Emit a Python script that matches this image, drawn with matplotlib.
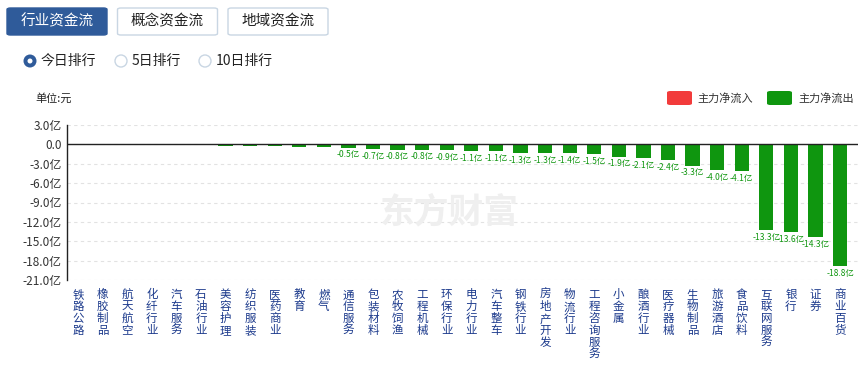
import numpy as np
import matplotlib
matplotlib.use("Agg")
from matplotlib import pyplot as plt
from matplotlib.patches import FancyBboxPatch, Ellipse

plt.rcParams["font.family"] = ["Noto Sans CJK SC", "DejaVu Sans"]

# industries, ordered as on the chart
industries = [
    "铁路公路", "橡胶制品", "航天航空", "化纤行业", "汽车服务", "石油行业",
    "美容护理", "纺织服装", "医药商业", "教育", "燃气", "通信服务",
    "包装材料", "农牧饲渔", "工程机械", "环保行业", "电力行业", "汽车整车",
    "钢铁行业", "房地产开发", "物流行业", "工程咨询服务", "小金属", "酿酒行业",
    "医疗器械", "生物制品", "旅游酒店", "食品饮料", "互联网服务", "银行",
    "证券", "商业百货",
]
# main net flow, in 亿元
net_flow = [
    0.05, 0.04, 0.02, -0.01, -0.03, -0.05,
    -0.2, -0.25, -0.3, -0.35, -0.4, -0.5,
    -0.7, -0.8, -0.8, -0.9, -1.1, -1.1,
    -1.3, -1.3, -1.4, -1.5, -1.9, -2.1,
    -2.4, -3.3, -4.0, -4.1, -13.3, -13.6,
    -14.3, -18.8,
]
yticks = [3, 0, -3, -6, -9, -12, -15, -18, -21]
tabs = ["行业资金流", "概念资金流", "地域资金流"]
ranks = ["今日排行", "5日排行", "10日排行"]

RED = "#f23b3b"
GREEN = "#0f960f"
BLUE = "#2f5b9a"
W, H = 867, 367


def px(x, y):
    return x / W, 1 - y / H


def circle(x, y, d, **kw):
    # round in pixels even though the figure is not square
    fig.add_artist(Ellipse(px(x, y), d / W, d / H, transform=fig.transFigure, **kw))


fig = plt.figure(figsize=(W / 100, H / 100), dpi=100)

# top tabs
for i, name in enumerate(tabs):
    x0 = 7 + i * 110.5
    active = i == 0
    box = FancyBboxPatch(px(x0, 35), 100 / W, 27 / H,
                         boxstyle="round,pad=0,rounding_size=0.004",
                         transform=fig.transFigure,
                         facecolor=BLUE if active else "white",
                         edgecolor=BLUE if active else "#c9d6e3", lw=1)
    fig.patches.append(box)
    fig.text(*px(x0 + 50, 21.5), name, ha="center", va="center", fontsize=10.5,
             color="white" if active else "#222222")

# radio buttons
radio_x = [30, 121, 205]
for i, (name, rx) in enumerate(zip(ranks, radio_x)):
    if i == 0:
        circle(rx, 61, 13, facecolor=BLUE, edgecolor="none")
        circle(rx, 61, 5, facecolor="white", edgecolor="none")
    else:
        circle(rx, 61, 12, facecolor="white", edgecolor="#c9d6e3", lw=1)
    fig.text(*px(rx + 11, 61), name, ha="left", va="center", fontsize=10, color="#222222")

fig.text(*px(35, 98), "单位:元", ha="left", va="center", fontsize=8, color="#222222")

# legend
fig.patches.append(FancyBboxPatch(px(667, 105), 25 / W, 14 / H,
                                  boxstyle="round,pad=0,rounding_size=0.004",
                                  transform=fig.transFigure, facecolor=RED, edgecolor="none"))
fig.text(*px(697, 98), "主力净流入", ha="left", va="center", fontsize=8, color="#333333")
fig.patches.append(FancyBboxPatch(px(767, 105), 25 / W, 14 / H,
                                  boxstyle="round,pad=0,rounding_size=0.004",
                                  transform=fig.transFigure, facecolor=GREEN, edgecolor="none"))
fig.text(*px(798, 98), "主力净流出", ha="left", va="center", fontsize=8, color="#333333")

# watermark
fig.text(*px(449, 212), "东方财富", ha="center", va="center", fontsize=25,
         fontweight="bold", color="#efefef", zorder=0)

# main axes
left, top = px(67, 125)
right, bottom = px(858, 280)
ax = fig.add_axes([left, bottom, right - left, top - bottom])
ax.patch.set_alpha(0)

x = np.arange(len(industries))
values = np.array(net_flow)
colors = [RED if v > 0 else GREEN for v in values]
ax.bar(x, values, width=0.58, color=colors, zorder=3)

ax.set_ylim(-21, 3)
ax.set_xlim(-0.45, len(industries) - 0.27)
ax.set_yticks(yticks)
ax.set_yticklabels([("0.0" if t == 0 else f"{t:.1f}亿") for t in yticks],
                   fontsize=8.5, color="#333333")
ax.set_xticks(x)
ax.set_xticklabels(["\n".join(n) for n in industries], fontsize=8.3, color="#1c3a8c",
                   va="top", linespacing=0.9)
ax.tick_params(axis="x", length=0, pad=6)
ax.tick_params(axis="y", length=0, pad=4)

for s in ["top", "right", "bottom"]:
    ax.spines[s].set_visible(False)
ax.spines["left"].set_color("#222222")
ax.spines["left"].set_linewidth(1)
ax.grid(axis="y", linestyle=(0, (3, 3)), color="#e2e2e2", lw=0.8, zorder=0)
ax.axhline(0, color="#222222", lw=1, zorder=4)

# value labels under bars
for xi, v in zip(x, values):
    if v <= -0.45:
        ax.annotate(f"{v:.1f}亿", (xi, v), xytext=(0, -2), textcoords="offset points",
                    ha="center", va="top", fontsize=6.1, color=GREEN, zorder=5)

fig.savefig("out.png", dpi=100)
